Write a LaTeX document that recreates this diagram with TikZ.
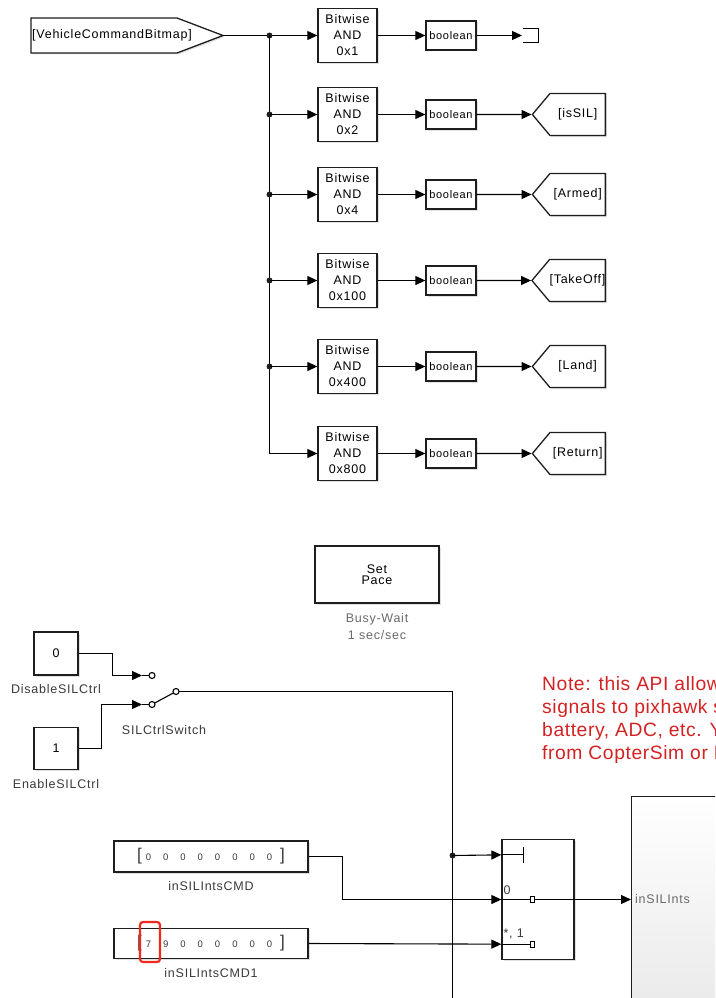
\documentclass[tikz,border=0pt]{standalone}
\usepackage{fontspec}
\setmainfont[LetterSpace=6]{Liberation Sans}
\newfontfamily\notefont[LetterSpace=3]{Liberation Sans}
\usetikzlibrary{arrows.meta,positioning,calc,shapes.symbols,shadows}
\definecolor{ink}{HTML}{1E1E1E}
\definecolor{lbl}{HTML}{3A3A3A}
\definecolor{dim}{HTML}{6A6A6A}
\definecolor{note}{HTML}{D42222}
\definecolor{mark}{HTML}{F0281E}
\newcommand{\fsz}[2]{\fontsize{#1}{#2}\selectfont}
% vector constant: big brackets round small digits
\newcommand{\dgap}{\hspace{12pt}}
\newcommand{\vecrow}[8]{{\fsz{17}{17}[}\hspace{4pt}#1\dgap#2\dgap#3\dgap#4\dgap#5\dgap#6\dgap#7\dgap#8\hspace{8pt}{\fsz{17}{17}]}}
\tikzset{
  blk/.style={draw=ink,line width=1.3pt,fill=white,inner sep=0pt,align=center,
    font=\fsz{12.5}{16},
    drop shadow={shadow xshift=1.5pt,shadow yshift=-1.5pt,opacity=.12,fill=black}},
  bitw/.style={blk,minimum width=59pt,minimum height=54pt},
  conv/.style={blk,minimum width=50pt,minimum height=29pt,font=\fsz{11}{11}},
  goto/.style={blk,shape=signal,signal to=west,signal pointer angle=100,
    minimum width=73pt,minimum height=42pt},
  sig/.style={line width=1.1pt,-{Triangle[length=10pt,width=9pt]}},
  wire/.style={line width=1.1pt},
  under/.style={font=\fsz{12.5}{16},text=lbl,inner sep=0pt,align=center}
}
\begin{document}
\begin{tikzpicture}[x=1pt,y=-1pt]
  \useasboundingbox (0,0) rectangle (715,998);
  \clip (0,0) rectangle (715,998);

  % command bitmap split into flags
  \draw[line width=1.3pt,draw=ink,fill=white,
    drop shadow={shadow xshift=1.5pt,shadow yshift=-1.5pt,opacity=.12,fill=black}]
    (31,18) -- (177,18) -- (223,35.5) -- (177,53) -- (31,53) -- cycle;
  \node[font=\fsz{12.5}{16},anchor=west,inner sep=0pt] (from) at (32,35.5) {[VehicleCommandBitmap]};
  \coordinate (fromtip) at (223,35.5);
  \coordinate (split) at (269.5,35.5);

  \foreach \i/\y/\mask in {1/35.5/0x1,2/114.5/0x2,3/194.5/0x4,4/280.5/0x100,5/366.5/0x400,6/453.5/0x800}{
    \node[bitw] (and\i) at (347.5,\y) {Bitwise\\AND\\\mask};
    \node[conv] (conv\i) at (451,\y) {boolean};
    \draw[sig] (and\i) -- (conv\i);
  }
  \draw[sig] (fromtip) -- (and1);
  \fill[ink] (split) circle (3pt);
  \draw[sig] (split) |- (and6);
  \foreach \i in {2,...,5}{
    \fill[ink] (split |- and\i) circle (3pt);
    \draw[sig] (split |- and\i) -- (and\i);
  }

  % terminator on the first flag
  \coordinate (term) at (522,35.5);
  \draw[sig] (conv1) -- (term);
  \draw[line width=1pt] ($(term)+(1,-7)$) -| ($(term)+(16,7)$) -- ($(term)+(1,7)$);

  \foreach \i/\y/\tag in {2/114.5/isSIL,3/194.5/Armed,4/280.5/TakeOff,5/366.5/Land,6/453.5/Return}{
    \node[goto,anchor=east] (goto\i) at (606,\y) {[\tag]};
    \draw[sig] (conv\i) -- (goto\i);
  }

  % pacing
  \node[blk,minimum width=124pt,minimum height=57pt,font=\fsz{12.5}{11.5}] (pace) at (377,574.5) {Set\\Pace};
  \node[under,text=dim,below=10pt of pace,font=\fsz{12.5}{17}] (pacelbl) {Busy-Wait\\1 sec/sec};

  % SIL control switch
  \node[blk,minimum width=44pt,minimum height=43pt] (off) at (56,653.5) {0};
  \node[under,below=9pt of off] (offlbl) {DisableSILCtrl};
  \node[blk,minimum width=44pt,minimum height=42pt] (on) at (56,748.5) {1};
  \node[under,below=9pt of on] (onlbl) {EnableSILCtrl};

  \coordinate (sw1) at (142,675.5);
  \coordinate (sw2) at (142,704.5);
  \coordinate (p1) at (152,675.5);
  \coordinate (p2) at (152,704.5);
  \coordinate (p3) at (176,691.5);
  \draw[sig] (off.east) -- ++(33.5,0) |- (sw1);
  \draw[sig] (on.east) -- ++(22.5,0) |- (sw2);
  \draw[wire] (sw1) -- ++(7,0) (sw2) -- ++(7,0);
  \foreach \c in {p1,p2,p3}
    \draw[wire,fill=white] (\c) circle (3pt);
  \draw[wire,shorten <=3pt,shorten >=3pt] (p2) -- (p3);
  \node[under] (swlbl) at (164,730) {SILCtrlSwitch};

  % multiport switch
  \node[blk,minimum width=72pt,minimum height=120pt] (mps) at (538,899.5) {};
  \coordinate (in0) at ($(mps.north west)+(0,16)$);
  \coordinate (in1) at (mps.west);
  \coordinate (in2) at ($(mps.south west)+(0,-16)$);
  \coordinate (bus) at (452.5,855.5);
  \coordinate (busend) at (452.5,1005);
  \draw[wire] (p3) ++(3,0) -- (bus |- p3) -- (busend);
  \fill[ink] (bus) circle (3pt);
  \draw[sig] (bus) -- (in0);

  \draw[wire] (in0) -- ++(22,0) coordinate (stop);
  \draw[wire] ($(stop)+(0,-8)$) -- ($(stop)+(0,8)$);
  \draw[wire] (in1) -- ++(29,0) coordinate (pos0);
  \draw[wire] (in2) -- ++(29,0) coordinate (pos1);
  \foreach \c in {pos0,pos1}
    \draw[line width=1pt,fill=white] ($(\c)+(0,-3)$) rectangle ++(4.5,6);
  \node[under,anchor=south west] (lab0) at ($(in1)+(2,-5)$) {0};
  \node[under,anchor=south west] (lab1) at ($(in2)+(2,-5)$) {*, 1};

  % vector constants
  \node[blk,minimum width=194pt,minimum height=31pt,font=\fsz{9.5}{9.5},text=lbl] (cmd) at (211,856.5)
    {\vecrow{0}{0}{0}{0}{0}{0}{0}{0}};
  \node[under,below=9pt of cmd] (cmdlbl) {inSILIntsCMD};
  \node[blk,minimum width=194pt,minimum height=30pt,font=\fsz{9.5}{9.5},text=lbl] (cmdone) at (211,943.5)
    {\vecrow{7}{9}{0}{0}{0}{0}{0}{0}};
  \node[under,below=9pt of cmdone] (cmdonelbl) {inSILIntsCMD1};
  \node[draw=mark,line width=2.2pt,rounded corners=3pt,minimum width=20pt,minimum height=40pt] (hl) at (150,942) {};

  \draw[sig] (cmd.east) -- ++(34,0) |- (in1);
  \draw[sig] (cmdone.east) -- (in2);

  % subsystem receiving the ints
  \node[draw=ink,line width=1.3pt,top color=white,bottom color=black!9,
    minimum width=110pt,minimum height=230pt,anchor=north west,inner sep=0pt] (sub) at (631,796) {};
  \node[anchor=west,inner sep=0pt,font=\fsz{12.5}{16},text=dim] (subin) at ($(sub.west |- in1)+(4,0)$) {inSILInts};
  \draw[sig] ($(pos0)+(4.5,0)$) -- (sub.west |- in1);

  % note
  \node[anchor=north west,inner sep=0pt,align=left,text=note,font=\notefont\fsz{19.3}{23}] (note) at (542,676)
    {Note: this API allow\\signals to pixhawk s\\battery, ADC, etc. Y\\from CopterSim or R};
\end{tikzpicture}
\end{document}
